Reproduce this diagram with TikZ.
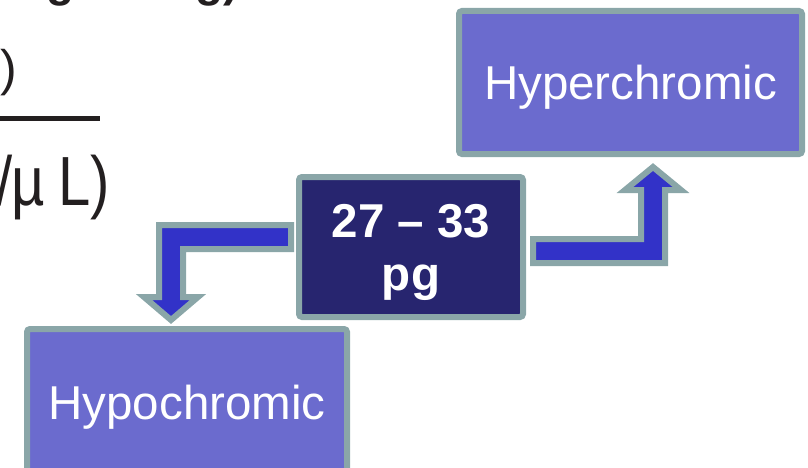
\documentclass[tikz,border=0pt]{standalone}
\usepackage{fontspec}
\setmainfont{Liberation Sans}
\usetikzlibrary{calc}
\definecolor{boxfill}{HTML}{6B6BCE}
\definecolor{darkfill}{HTML}{27256F}
\definecolor{arrowfill}{HTML}{3232C8}
\definecolor{edgegray}{HTML}{8AA6A8}
\definecolor{inkblack}{HTML}{231F20}
\tikzset{
  box/.style={draw=edgegray, line width=6pt, fill=boxfill, rounded corners=3pt,
    inner sep=0pt, outer sep=0pt, text=white, text depth=0pt,
    font=\fontsize{47.5}{52}\selectfont},
  midbox/.style={box, fill=darkfill, align=center,
    font=\fontsize{47.5}{53}\selectfont\bfseries},
  blockarrow/.style={draw=edgegray, line width=6pt, fill=arrowfill, line join=miter, miter limit=10},
  frag/.style={inner sep=0pt, outer sep=0pt, text=inkblack}
}
\newcommand{\fragfont}{\fontsize{58}{58}\selectfont}
\begin{document}
\begin{tikzpicture}[x=1pt,y=-1pt]
\useasboundingbox (0,0) rectangle (808,468);
\clip (0,0) rectangle (808,468);
% fragments of a cropped formula (top left)
\node[frag, anchor=base west, font=\fontsize{46}{46}\selectfont\bfseries] (fg1) at (46,-3) {g};
\node[frag, anchor=base west, font=\fontsize{46}{46}\selectfont\bfseries] (fg2) at (183,-3) {/g)};
\node[frag, anchor=base east, font=\fontsize{50}{50}\selectfont] (fp1) at (17,86) {)};
\fill[inkblack] (0,116) rectangle (100,121.5);
\node[frag, anchor=base west] (fsl) at (-3,205) {\scalebox{1}[1.2]{\fragfont /}};
\node[frag, anchor=base west] (fmu) at (12,205) {\scalebox{1}[1.2]{\fragfont µ}};
\node[frag, anchor=base east] (fL) at (110,205) {\scalebox{1}[1.2]{\fragfont L)}};
% boxes
\node[box, minimum width=343pt, minimum height=143pt] (hyper) at (630.5,82.5) {Hyperchromic};
\node[box, minimum width=320pt, minimum height=146pt] (hypo) at (187,402) {Hypochromic};
\node[midbox, minimum width=224pt, minimum height=140pt] (mid) at (411,247) {27 – 33\\pg};
% left elbow arrow: from mid to hypo
\draw[blockarrow] ($(mid.west)+(-8,-22)$) -- ++(-132,0) -- ++(0,72) -- ++(-15,0)
  -- ++(27,23) -- ++(27,-23) -- ++(-15,0) -- ++(0,-48) -- ++(108,0) -- cycle;
% right elbow arrow: from mid to hyper
\draw[blockarrow] ($(mid.east)+(10,-8)$) -- ++(108,0) -- ++(0,-49) -- ++(-16,0)
  -- ++(28,-23) -- ++(28,23) -- ++(-16,0) -- ++(0,73) -- ++(-132,0) -- cycle;
\end{tikzpicture}
\end{document}
